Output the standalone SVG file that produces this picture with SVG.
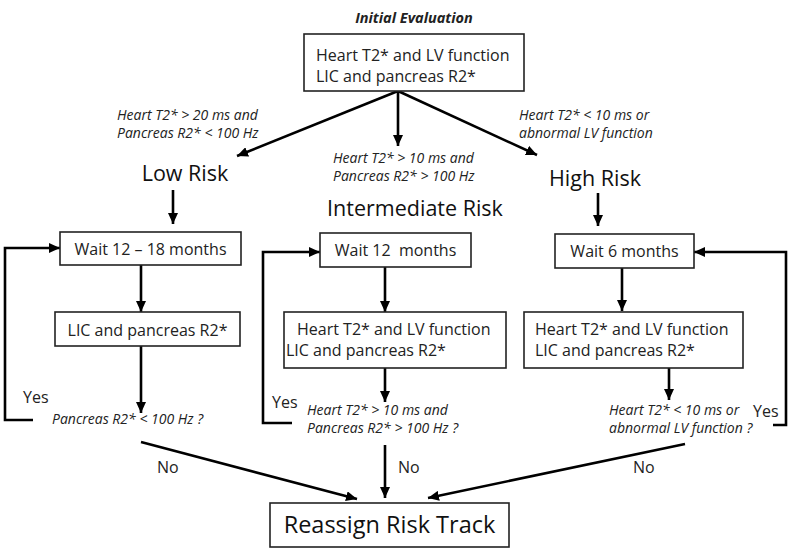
<svg xmlns="http://www.w3.org/2000/svg" width="800" height="550" viewBox="0 0 800 550">
<defs>
<marker id="ah" markerUnits="userSpaceOnUse" markerWidth="12" markerHeight="10" refX="11" refY="5" orient="auto">
<path d="M0,0 L11,5 L0,10 z" fill="#000"/>
</marker>
<style>
.box{fill:#fff;stroke:#222;stroke-width:1.6}
.t{font-family:"Open Sans","DejaVu Sans",sans-serif;font-size:16px;fill:#222}
.c{font-family:"Open Sans","DejaVu Sans",sans-serif;font-size:14px;font-style:italic;fill:#222}
.r{font-family:"Open Sans","DejaVu Sans",sans-serif;font-size:21.5px;fill:#111}
.e{fill:none;stroke:#000;stroke-width:2.6}
.a{marker-end:url(#ah)}
</style>
</defs>
<rect width="800" height="550" fill="#fff"/>
<text x="414" y="23" text-anchor="middle" style="font-family:'Open Sans',sans-serif;font-size:14.5px;font-weight:bold;font-style:italic;fill:#222">Initial Evaluation</text>

<g id="connectors">
<line class="e a" x1="398" y1="91" x2="237" y2="156"/>
<line class="e a" x1="398" y1="91" x2="398" y2="146"/>
<line class="e a" x1="398" y1="91" x2="537" y2="155"/>
<line class="e a" x1="173" y1="190" x2="173" y2="224"/>
<line class="e a" x1="598" y1="193" x2="598" y2="226"/>
<line class="e a" x1="141" y1="265" x2="141" y2="312"/>
<line class="e a" x1="141" y1="346" x2="141" y2="413"/>
<line class="e a" x1="385" y1="267" x2="385" y2="312"/>
<line class="e a" x1="385" y1="368" x2="385" y2="402"/>
<line class="e a" x1="622" y1="268" x2="622" y2="311"/>
<line class="e a" x1="669" y1="368" x2="669" y2="400"/>
<polyline class="e a" points="33,420 5,420 5,248 60,248"/>
<polyline class="e a" points="292,423 263,423 263,252 320,252"/>
<polyline class="e a" points="773,425 786,425 786,252 694,252"/>
<line class="e a" x1="141" y1="442" x2="357" y2="499"/>
<line class="e a" x1="385" y1="445" x2="385" y2="498"/>
<line class="e a" x1="685" y1="444" x2="428" y2="498"/>
</g>

<g id="initial">
<rect class="box" x="304" y="34" width="220" height="57"/>
<text class="t" x="316" y="61">Heart T2* and LV function</text>
<text class="t" x="316" y="82">LIC and pancreas R2*</text>
</g>

<g id="cond-low">
<text class="c" x="117" y="120">Heart T2* &gt; 20 ms and</text>
<text class="c" x="117" y="138">Pancreas R2* &lt; 100 Hz</text>
</g>
<g id="cond-mid">
<text class="c" x="333" y="163">Heart T2* &gt; 10 ms and</text>
<text class="c" x="333" y="181">Pancreas R2* &gt; 100 Hz</text>
</g>
<g id="cond-high">
<text class="c" x="519" y="120">Heart T2* &lt; 10 ms or</text>
<text class="c" x="519" y="138">abnormal LV function</text>
</g>

<g id="low-risk"><text class="r" x="185" y="181" text-anchor="middle">Low Risk</text></g>
<g id="intermediate-risk"><text class="r" x="415" y="216" text-anchor="middle">Intermediate Risk</text></g>
<g id="high-risk"><text class="r" x="595" y="186" text-anchor="middle">High Risk</text></g>

<g id="wait-low">
<rect class="box" x="60" y="232" width="181" height="33"/>
<text class="t" x="150.5" y="255" text-anchor="middle">Wait 12 – 18 months</text>
</g>
<g id="wait-mid">
<rect class="box" x="320" y="233" width="151" height="34"/>
<text class="t" x="395.5" y="256" text-anchor="middle" xml:space="preserve">Wait 12  months</text>
</g>
<g id="wait-high">
<rect class="box" x="555" y="234" width="139" height="34"/>
<text class="t" x="624.5" y="257" text-anchor="middle">Wait 6 months</text>
</g>

<g id="test-low">
<rect class="box" x="55" y="312" width="185" height="34"/>
<text class="t" x="147.5" y="336" text-anchor="middle">LIC and pancreas R2*</text>
</g>
<g id="test-mid">
<rect class="box" x="284" y="312" width="222" height="56"/>
<text class="t" x="297" y="335">Heart T2* and LV function</text>
<text class="t" x="286" y="356">LIC and pancreas R2*</text>
</g>
<g id="test-high">
<rect class="box" x="524" y="312" width="219" height="56"/>
<text class="t" x="535" y="335">Heart T2* and LV function</text>
<text class="t" x="535" y="356">LIC and pancreas R2*</text>
</g>

<g id="q-low">
<text class="c" x="52" y="424">Pancreas R2* &lt; 100 Hz ?</text>
</g>
<g id="q-mid">
<text class="c" x="307" y="415">Heart T2* &gt; 10 ms and</text>
<text class="c" x="307" y="433">Pancreas R2* &gt; 100 Hz ?</text>
</g>
<g id="q-high">
<text class="c" x="609" y="415">Heart T2* &lt; 10 ms or</text>
<text class="c" x="609" y="433">abnormal LV function ?</text>
</g>

<g id="labels">
<text class="t" x="23" y="403">Yes</text>
<text class="t" x="272" y="408">Yes</text>
<text class="t" x="753" y="417">Yes</text>
<text class="t" x="157" y="473">No</text>
<text class="t" x="398" y="473">No</text>
<text class="t" x="633" y="473">No</text>
</g>

<g id="reassign">
<rect class="box" x="270" y="503" width="239" height="44"/>
<text x="389.5" y="533" text-anchor="middle" style="font-family:'Open Sans',sans-serif;font-size:23.5px;fill:#111">Reassign Risk Track</text>
</g>
</svg>
